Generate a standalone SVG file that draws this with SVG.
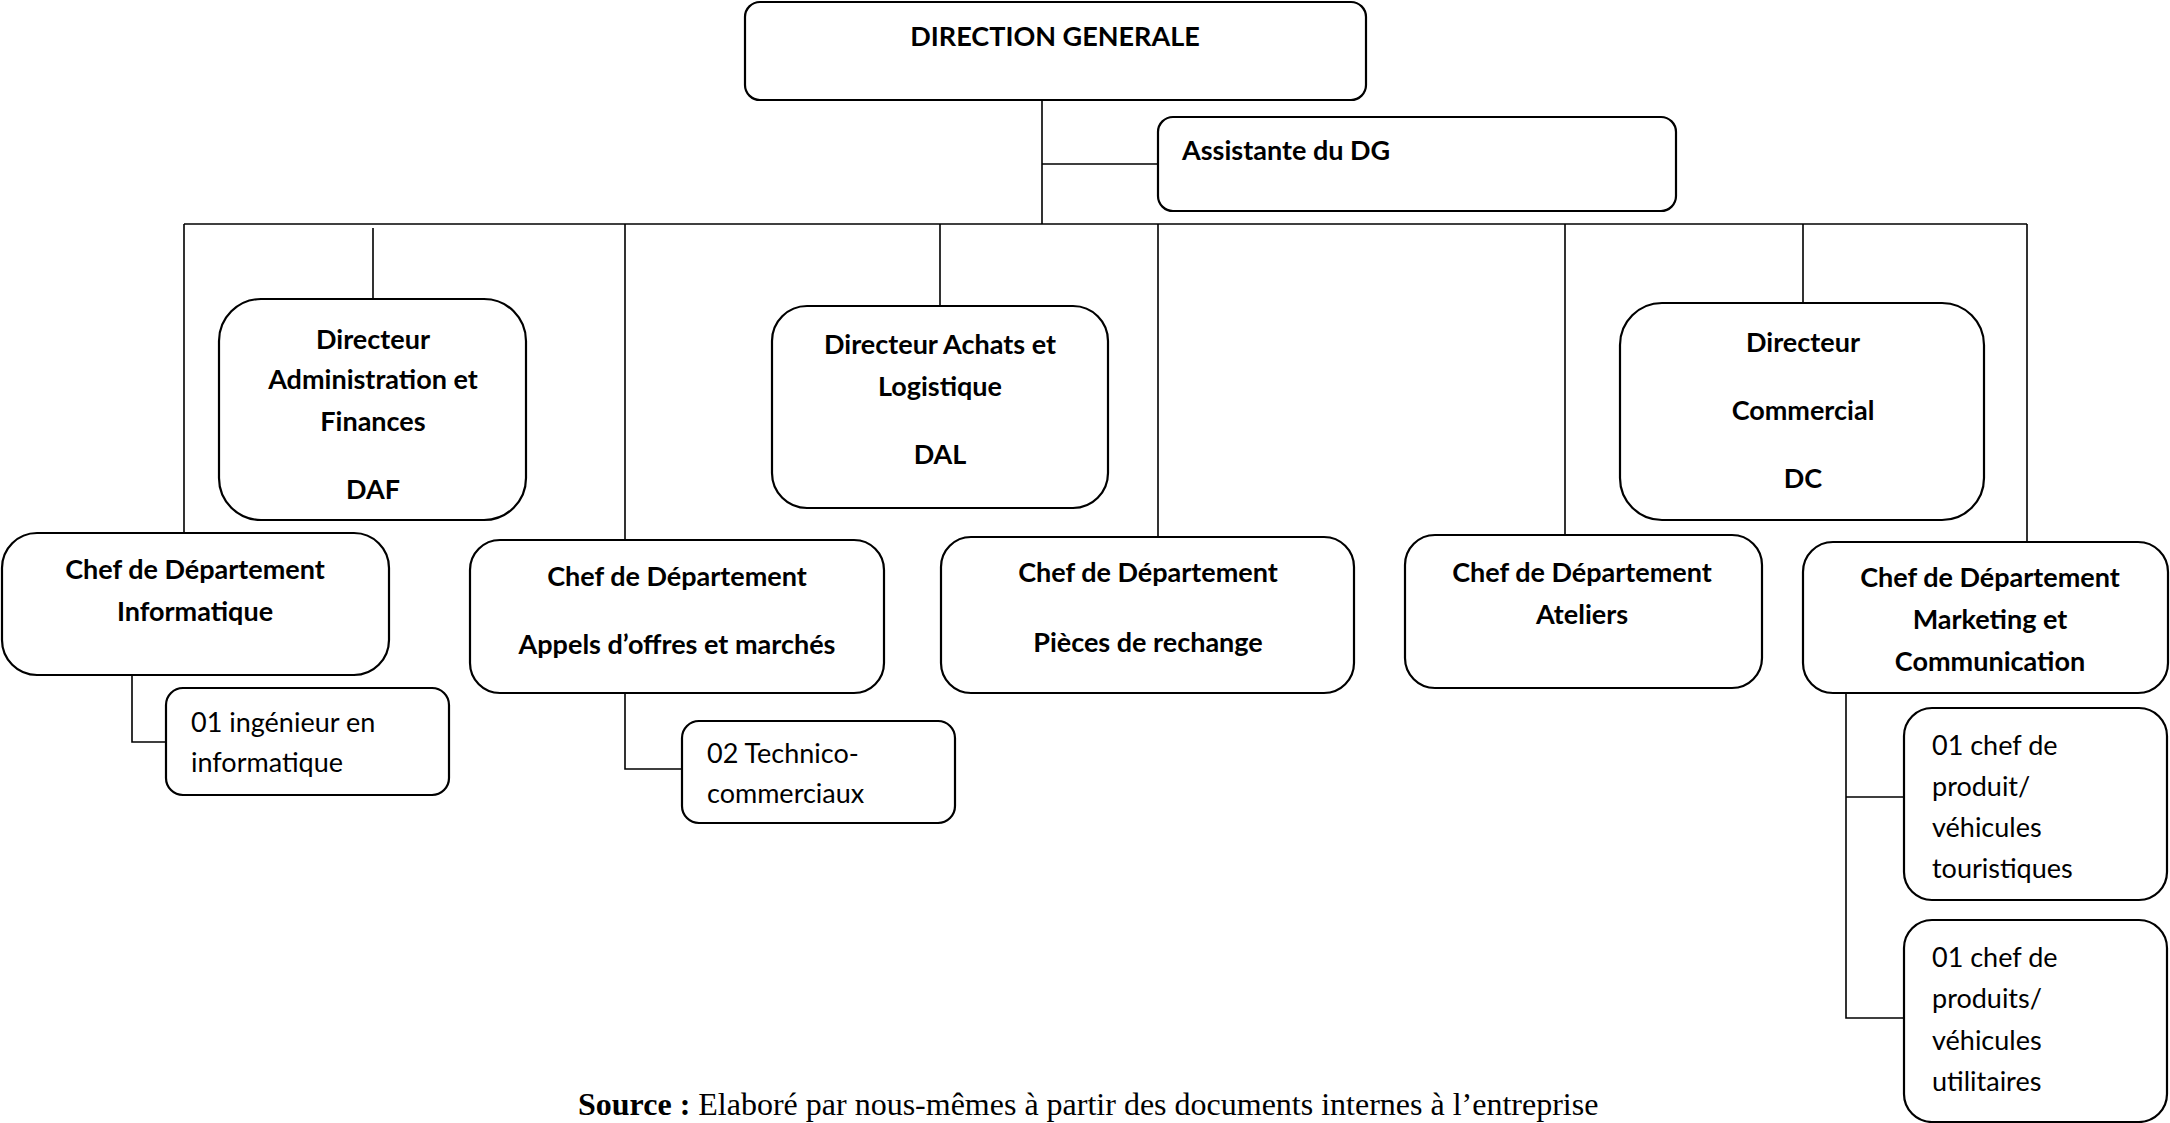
<svg xmlns="http://www.w3.org/2000/svg" width="2170" height="1123" viewBox="0 0 2170 1123">
<style>
.box{fill:#fff;stroke:#000;stroke-width:2.2}
.ln{fill:none;stroke:#000;stroke-width:1.6}
.b{font-family:Lato,"Liberation Sans",sans-serif;font-weight:bold;font-size:27px;fill:#000;text-anchor:middle}
.bl{font-family:Lato,"Liberation Sans",sans-serif;font-weight:bold;font-size:27px;fill:#000}
.r{font-family:Lato,"Liberation Sans",sans-serif;font-size:27px;fill:#000}
.src{font-family:"Liberation Serif","Times New Roman",serif;font-size:32px;fill:#000}
</style>
<rect width="2170" height="1123" fill="#fff"/>
<g id="connectors">
<path class="ln" d="M1042 100V224M1042 164H1158"/>
<path class="ln" d="M184 224H2027" stroke-width="2"/>
<path class="ln" d="M184 224V533M373 228V299M625 224V540M940 224V306M1158 224V537M1565 224V535M1803 224V303M2027 224V542"/>
<path class="ln" d="M132 675V742H166"/>
<path class="ln" d="M625 693V769H682"/>
<path class="ln" d="M1846 693V1018H1904M1846 797H1904"/>
</g>
<g id="dg">
<rect class="box" x="745" y="2" width="621" height="98" rx="15"/>
<text class="b" x="1055" y="46">DIRECTION GENERALE</text>
</g>
<g id="assistante">
<rect class="box" x="1158" y="117" width="518" height="94" rx="15"/>
<text class="bl" x="1182" y="160">Assistante du DG</text>
</g>
<g id="daf">
<rect class="box" x="219" y="299" width="307" height="221" rx="42"/>
<text class="b" x="373" y="349">Directeur</text>
<text class="b" x="373" y="389">Administration et</text>
<text class="b" x="373" y="431">Finances</text>
<text class="b" x="373" y="499">DAF</text>
</g>
<g id="dal">
<rect class="box" x="772" y="306" width="336" height="202" rx="35"/>
<text class="b" x="940" y="354">Directeur Achats et</text>
<text class="b" x="940" y="396">Logistique</text>
<text class="b" x="940" y="464">DAL</text>
</g>
<g id="dc">
<rect class="box" x="1620" y="303" width="364" height="217" rx="42"/>
<text class="b" x="1803" y="352">Directeur</text>
<text class="b" x="1803" y="420">Commercial</text>
<text class="b" x="1803" y="488">DC</text>
</g>
<g id="chef-info">
<rect class="box" x="2" y="533" width="387" height="142" rx="35"/>
<text class="b" x="195" y="579">Chef de Département</text>
<text class="b" x="195" y="621">Informatique</text>
</g>
<g id="chef-appels">
<rect class="box" x="470" y="540" width="414" height="153" rx="30"/>
<text class="b" x="677" y="586">Chef de Département</text>
<text class="b" x="677" y="654">Appels d’offres et marchés</text>
</g>
<g id="chef-pieces">
<rect class="box" x="941" y="537" width="413" height="156" rx="30"/>
<text class="b" x="1148" y="582">Chef de Département</text>
<text class="b" x="1148" y="652">Pièces de rechange</text>
</g>
<g id="chef-ateliers">
<rect class="box" x="1405" y="535" width="357" height="153" rx="30"/>
<text class="b" x="1582" y="582">Chef de Département</text>
<text class="b" x="1582" y="624">Ateliers</text>
</g>
<g id="chef-marketing">
<rect class="box" x="1803" y="542" width="365" height="151" rx="30"/>
<text class="b" x="1990" y="587">Chef de Département</text>
<text class="b" x="1990" y="629">Marketing et</text>
<text class="b" x="1990" y="671">Communication</text>
</g>
<g id="ingenieur">
<rect class="box" x="166" y="688" width="283" height="107" rx="17"/>
<text class="r" x="191" y="732">01 ingénieur en</text>
<text class="r" x="191" y="772">informatique</text>
</g>
<g id="technico">
<rect class="box" x="682" y="721" width="273" height="102" rx="17"/>
<text class="r" x="707" y="763">02 Technico-</text>
<text class="r" x="707" y="803">commerciaux</text>
</g>
<g id="chef-produit-tour">
<rect class="box" x="1904" y="708" width="263" height="192" rx="28"/>
<text class="r" x="1932" y="755">01 chef de</text>
<text class="r" x="1932" y="796">produit/</text>
<text class="r" x="1932" y="837">véhicules</text>
<text class="r" x="1932" y="878">touristiques</text>
</g>
<g id="chef-produit-util">
<rect class="box" x="1904" y="920" width="263" height="202" rx="28"/>
<text class="r" x="1932" y="967">01 chef de</text>
<text class="r" x="1932" y="1008">produits/</text>
<text class="r" x="1932" y="1050">véhicules</text>
<text class="r" x="1932" y="1091">utilitaires</text>
</g>
<text class="src" x="578" y="1115"><tspan font-weight="bold">Source :</tspan> Elaboré par nous-mêmes à partir des documents internes à l’entreprise</text>
</svg>
